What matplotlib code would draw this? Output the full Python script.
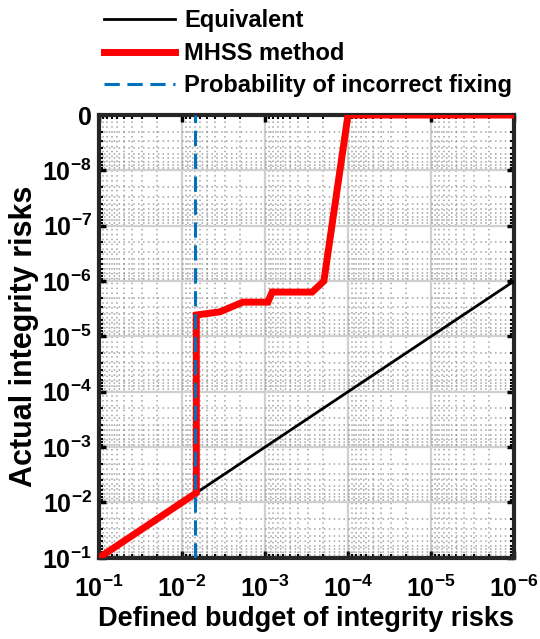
import matplotlib.pyplot as plt
import numpy as np
from matplotlib.ticker import LogLocator, FixedLocator

plt.rcParams['font.family'] = ['Liberation Sans', 'DejaVu Sans']
plt.rcParams['font.weight'] = 'bold'
plt.rcParams['mathtext.fontset'] = 'custom'
plt.rcParams['mathtext.rm'] = 'Liberation Sans'
plt.rcParams['mathtext.bf'] = 'Liberation Sans:bold'

# equivalent line (y = x)
eq_x = [1e-1, 1e-6]
eq_y = [1e-1, 1e-6]

# MHSS method curve
mhss_x = [1e-1, 6.7e-3, 6.7e-3, 3.5e-3, 1.84e-3, 9.2e-4, 8.2e-4, 2.7e-4, 1.95e-4, 1.0e-4, 1e-6]
mhss_y = [1e-1, 6.7e-3, 4.1e-6, 3.6e-6, 2.4e-6, 2.4e-6, 1.58e-6, 1.58e-6, 1.0e-6, 1e-9, 1e-9]

# probability of incorrect fixing
p_fix = 7e-3

x_ticks = [1e-1, 1e-2, 1e-3, 1e-4, 1e-5, 1e-6]
x_labels = ['$\\mathbf{10^{-1}}$', '$\\mathbf{10^{-2}}$', '$\\mathbf{10^{-3}}$',
            '$\\mathbf{10^{-4}}$', '$\\mathbf{10^{-5}}$', '$\\mathbf{10^{-6}}$']
y_ticks = [1e-1, 1e-2, 1e-3, 1e-4, 1e-5, 1e-6, 1e-7, 1e-8, 1e-9]
y_labels = ['$\\mathbf{10^{-1}}$', '$\\mathbf{10^{-2}}$', '$\\mathbf{10^{-3}}$',
            '$\\mathbf{10^{-4}}$', '$\\mathbf{10^{-5}}$', '$\\mathbf{10^{-6}}$',
            '$\\mathbf{10^{-7}}$', '$\\mathbf{10^{-8}}$', '0']

fig = plt.figure(figsize=(5.4, 6.39), dpi=100)
ax = fig.add_axes([0.183, 0.127, 0.769, 0.693])

ax.plot(eq_x, eq_y, color='black', lw=2, label='Equivalent', zorder=3)
ax.plot(mhss_x, mhss_y, color='red', lw=5, label='MHSS method', zorder=4,
        solid_joinstyle='miter')
ax.axvline(p_fix, color='#0072BD', lw=2.2, ls=(0, (5, 2.5)),
           label='Probability of incorrect fixing', zorder=5)

ax.set_xscale('log')
ax.set_yscale('log')
ax.set_xlim(1e-1, 1e-6)
ax.set_ylim(1e-1, 1e-9)

ax.xaxis.set_major_locator(FixedLocator(x_ticks))
ax.set_xticklabels(x_labels)
ax.yaxis.set_major_locator(FixedLocator(y_ticks))
ax.set_yticklabels(y_labels)
ax.xaxis.set_minor_locator(LogLocator(base=10, subs=np.arange(2, 10), numticks=20))
ax.yaxis.set_minor_locator(LogLocator(base=10, subs=np.arange(2, 10), numticks=20))
ax.tick_params(axis='both', which='major', direction='in', length=5, width=2.5,
               top=True, right=True, labelsize=18)
ax.tick_params(axis='x', which='major', pad=13)
ax.tick_params(axis='y', which='major', pad=5)
ax.tick_params(axis='both', which='minor', direction='in', length=3, width=1.5,
               top=True, right=True)
ax.yaxis.set_minor_formatter(plt.NullFormatter())
ax.xaxis.set_minor_formatter(plt.NullFormatter())

ax.grid(True, which='major', color='#d0d0d0', lw=1.6, ls='-')
ax.grid(True, which='minor', color='#707070', lw=1.1, ls=(0, (1, 2.2)), alpha=0.65)
ax.set_axisbelow(True)

for s in ax.spines.values():
    s.set_linewidth(3)
    s.set_color('#262626')

ax.set_xlabel('Defined budget of integrity risks', fontsize=19.5, fontweight='bold', labelpad=3)
ax.set_ylabel('Actual integrity risks', fontsize=22, fontweight='bold', labelpad=2)

fig.legend(loc='upper left', bbox_to_anchor=(0.175, 1.0), frameon=False,
           fontsize=17, handlelength=3.0, handletextpad=0.4, labelspacing=0.4,
           borderaxespad=0)

fig.savefig('out.png', dpi=100)
